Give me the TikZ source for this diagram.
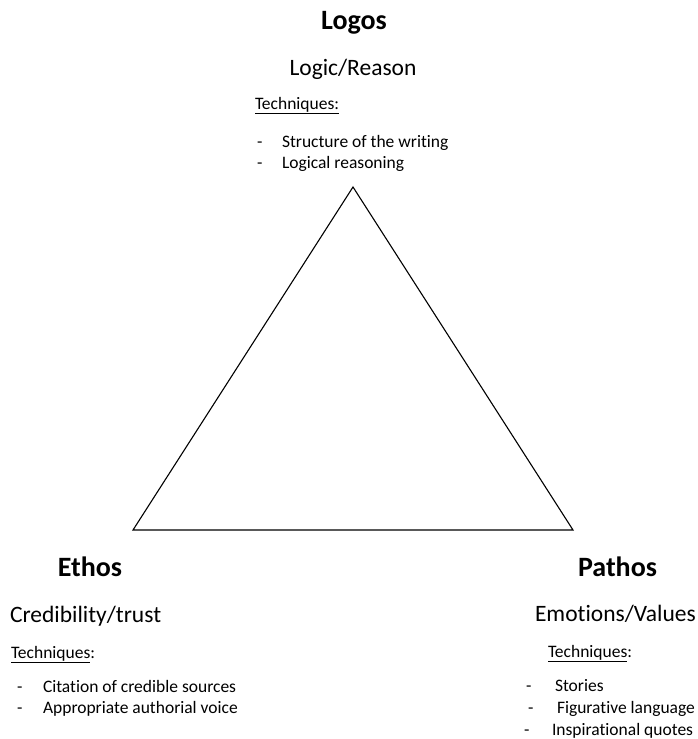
\documentclass[tikz,border=0pt]{standalone}
\usepackage{fontspec}
\setmainfont{Carlito}[Ligatures=NoCommon]
\begin{document}
\begin{tikzpicture}[x=1pt,y=-1pt,
  every node/.style={inner sep=0pt,outer sep=0pt},
  title/.style={font=\fontsize{28}{32}\selectfont\bfseries,anchor=base},
  subtitle/.style={font=\fontsize{23.5}{28}\selectfont,anchor=base west},
  item/.style={font=\fontsize{17.5}{21}\selectfont,anchor=base west},
  edge/.style={draw=black,line width=1.1pt,line join=miter}]
\useasboundingbox (0,0) rectangle (697,739);

% triangle corners
\coordinate (top) at (353,187);
\coordinate (left) at (133,530);
\coordinate (right) at (573,530);
\draw[edge] (top) -- (left) -- (right) -- cycle;

% Logos
\node[title] (logos) at (354,29) {Logos};
\node[subtitle,anchor=base] (logosSub) at (353,75) {Logic/Reason};
\node[item] (logosTech) at (255,109) {\underline{Techniques:}};
\node[item] (logosD1) at (257,147) {-};
\node[item] (logosI1) at (282,147) {Structure of the writing};
\node[item] (logosD2) at (257,168) {-};
\node[item] (logosI2) at (282,168) {Logical reasoning};

% Ethos
\node[title] (ethos) at (90,576) {Ethos};
\node[subtitle] (ethosSub) at (10,622) {Credibility/trust};
\node[item] (ethosTech) at (11,658) {\underline{Techniques}:};
\node[item] (ethosD1) at (17,692) {-};
\node[item] (ethosI1) at (43,692) {Citation of credible sources};
\node[item] (ethosD2) at (17,713) {-};
\node[item] (ethosI2) at (43,713) {Appropriate authorial voice};

% Pathos
\node[title] (pathos) at (617.5,576) {Pathos};
\node[subtitle] (pathosSub) at (535,621) {Emotions/Values};
\node[item] (pathosTech) at (548,657) {\underline{Techniques}:};
\node[item] (pathosD1) at (526,691) {-};
\node[item] (pathosI1) at (555,691) {Stories};
\node[item] (pathosD2) at (528,713) {-};
\node[item] (pathosI2) at (557,713) {Figurative language};
\node[item] (pathosD3) at (524,735) {-};
\node[item] (pathosI3) at (552,735) {Inspirational quotes};
\end{tikzpicture}
\end{document}
